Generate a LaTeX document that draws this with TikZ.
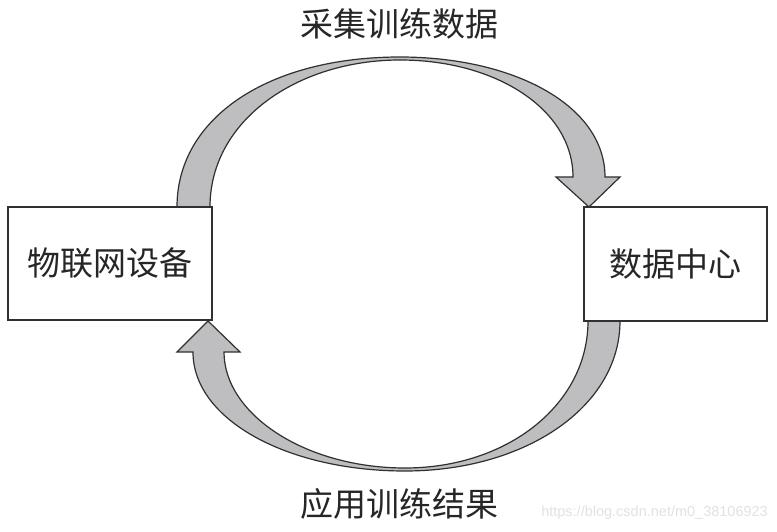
\documentclass[tikz,border=0pt]{standalone}
\usepackage{fontspec}
\newfontfamily\cjk{Noto Sans CJK SC}
\setsansfont{Liberation Sans}
\usetikzlibrary{calc}
\definecolor{arrowgray}{HTML}{BEBEC0}
\definecolor{edgegray}{HTML}{303030}
\definecolor{wmgray}{HTML}{E2E2E2}
\tikzset{
  box/.style={draw=edgegray, line width=1.4pt, fill=white, inner sep=0pt,
    font=\cjk\fontsize{33}{33}\selectfont, text=black!85},
  bigarrow/.style={fill=arrowgray, draw=edgegray, line width=1.2pt, line join=miter},
  caption/.style={font=\cjk\fontsize{33}{33}\selectfont, text=black!85, inner sep=0pt},
  watermark/.style={font=\sffamily\fontsize{14.5}{14.5}\selectfont, text=wmgray, inner sep=0pt, anchor=east}
}
\begin{document}
\begin{tikzpicture}[x=1pt,y=-1pt]
\useasboundingbox (0,0) rectangle (777,532);
\fill[white] (0,0) rectangle (777,532);
% top arrow: collect training data
\path[bigarrow]
  (177,207) .. controls (177,118) and (268,57) .. (400,57)
  .. controls (513,57) and (605,105) .. (605,177)
  -- (620,177) -- (589,207) -- (556,177) -- (573,177)
  .. controls (573,110) and (497,60) .. (400,60)
  .. controls (298,60) and (210,120) .. (210,207) -- cycle;
% bottom arrow: apply training results
\path[bigarrow]
  (620,321) .. controls (620,407) and (525,471) .. (405,471)
  .. controls (288,471) and (193,420) .. (193,352)
  -- (177,352) -- (208,321) -- (240,352) -- (224,352)
  .. controls (224,414) and (305,468) .. (405,468)
  .. controls (508,468) and (588,404) .. (588,321) -- cycle;
% boxes
\node[box, minimum width=204pt, minimum height=113pt] (iot) at (110,263.5) {物联网设备};
\node[box, minimum width=183pt, minimum height=114pt] (dc) at (675.5,264) {数据中心};
% labels
\node[caption] (collect) at (399,24) {采集训练数据};
\node[caption] (apply) at (399,504) {应用训练结果};
\node[watermark] (wm) at (768,513) {https://blog.csdn.net/m0\_38106923};
\end{tikzpicture}
\end{document}
